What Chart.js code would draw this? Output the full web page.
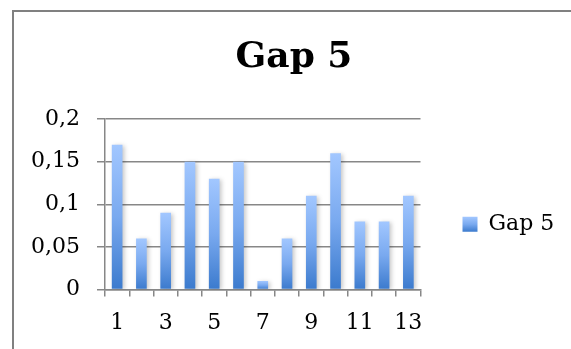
<!DOCTYPE html>
<html>
<head>
<meta charset="utf-8">
<script src="https://cdn.jsdelivr.net/npm/chart.js@4/dist/chart.umd.min.js"></script>
<style>
  html, body { margin: 0; padding: 0; background: #ffffff; overflow: hidden; }
  #frame {
    position: absolute; left: 12px; top: 10px; width: 640px; height: 420px;
    border: 2px solid #808080; box-sizing: border-box;
  }
  #wrap { position: absolute; left: 0; top: 0; width: 571px; height: 349px; }
</style>
</head>
<body>
<div id="frame"></div>
<div id="wrap"><canvas id="chart" width="571" height="349"></canvas></div>
<script>
// Category labels and the single series
const categories = ['1', '2', '3', '4', '5', '6', '7', '8', '9', '10', '11', '12', '13'];
const gap5 = [0.17, 0.06, 0.09, 0.15, 0.13, 0.15, 0.01, 0.06, 0.11, 0.16, 0.08, 0.08, 0.11];
const seriesName = 'Gap 5';
const yTicks = [0, 0.05, 0.1, 0.15, 0.2];

const FONT = "'DejaVu Serif', 'Liberation Serif', serif";
const GRID = '#878787';
const TOP_COLOR = '#a2c7ff';
const MID_COLOR = '#79a9ef';
const BOTTOM_COLOR = '#3b7acd';

Chart.defaults.font.family = FONT;
Chart.defaults.color = '#000000';

function verticalGradient(ctx, yTop, yBottom) {
  const g = ctx.createLinearGradient(0, yTop, 0, yBottom);
  g.addColorStop(0, TOP_COLOR);
  g.addColorStop(0.5, MID_COLOR);
  g.addColorStop(1, BOTTOM_COLOR);
  return g;
}

// Each bar gets its own light-to-dark gradient from its top down to zero
function barFill(context) {
  const chart = context.chart;
  const y = chart.scales.y;
  if (!y || context.raw === undefined) return MID_COLOR;
  const top = y.getPixelForValue(context.raw);
  const bottom = y.getPixelForValue(0);
  if (!isFinite(top) || !isFinite(bottom) || bottom - top < 0.5) return MID_COLOR;
  return verticalGradient(chart.ctx, top, bottom);
}

// Soft drop shadow behind the bars
const barShadow = {
  id: 'barShadow',
  beforeDatasetsDraw(chart) {
    const ctx = chart.ctx;
    ctx.save();
    ctx.shadowColor = 'rgba(0,0,0,0.22)';
    ctx.shadowBlur = 4;
    ctx.shadowOffsetX = 2;
    ctx.shadowOffsetY = 1;
  },
  afterDatasetsDraw(chart) {
    chart.ctx.restore();
  }
};

// Moves the legend block down a little, lets it run to the canvas edge,
// and widens the value axis box so its labels are not cut off
const boxPlacement = {
  id: 'boxPlacement',
  afterLayout(chart) {
    const lg = chart.legend;
    if (lg) {
      lg.top += 20;
      lg.bottom += 20;
      lg.right = chart.width;
      lg.width = lg.right - lg.left;
    }
    const y = chart.scales.y;
    if (y) {
      y.left = 0;
      y.width = y.right - y.left;
    }
  }
};

new Chart(document.getElementById('chart'), {
  type: 'bar',
  data: {
    labels: categories,
    datasets: [{
      label: seriesName,
      data: gap5,
      backgroundColor: barFill,
      borderWidth: 0,
      categoryPercentage: 1,
      barPercentage: 0.44
    }]
  },
  plugins: [barShadow, boxPlacement],
  options: {
    responsive: false,
    animation: false,
    devicePixelRatio: 1,
    layout: { padding: { left: 41, right: 24, top: 0, bottom: 0 } },
    plugins: {
      title: {
        display: true,
        text: seriesName,
        color: '#000000',
        font: { family: FONT, size: 36, weight: 'bold' },
        padding: { top: 36, bottom: 40 }
      },
      legend: {
        display: true,
        position: 'right',
        fullSize: false,
        labels: {
          color: '#000000',
          font: { family: FONT, size: 22 },
          boxWidth: 15,
          boxHeight: 15,
          padding: 42,
          generateLabels(chart) {
            const lg = chart.legend;
            let fill = MID_COLOR;
            if (lg && isFinite(lg.top) && isFinite(lg.bottom) && lg.bottom > lg.top) {
              const cy = (lg.top + lg.bottom) / 2;
              fill = verticalGradient(chart.ctx, cy - 7.5, cy + 7.5);
            }
            return chart.data.datasets.map((ds, i) => ({
              text: ds.label,
              fillStyle: fill,
              strokeStyle: 'rgba(0,0,0,0)',
              lineWidth: 0,
              fontColor: '#000000',
              hidden: !chart.isDatasetVisible(i),
              datasetIndex: i
            }));
          }
        }
      },
      tooltip: { enabled: false }
    },
    scales: {
      x: {
        afterFit(scale) { scale.height = 59.5; },
        grid: {
          display: true,
          offset: true,
          drawOnChartArea: false,
          drawTicks: true,
          tickLength: 7,
          color: GRID,
          lineWidth: 1.5
        },
        border: { display: true, color: GRID, width: 1.5 },
        ticks: {
          autoSkip: false,
          maxRotation: 0,
          minRotation: 0,
          padding: 14,
          color: '#000000',
          font: { family: FONT, size: 22 },
          callback: (value, index) => (index % 2 === 0 ? categories[index] : '')
        }
      },
      y: {
        min: 0,
        max: 0.2,
        afterFit(scale) { scale.width = 64; },
        afterBuildTicks(scale) { scale.ticks = yTicks.map(v => ({ value: v })); },
        grid: {
          color: GRID,
          lineWidth: 1.5,
          drawTicks: true,
          tickLength: 8
        },
        border: { display: true, color: GRID, width: 1.5 },
        ticks: {
          padding: 17,
          color: '#000000',
          font: { family: FONT, size: 22 },
          callback: (value) => String(Math.round(value * 100) / 100).replace('.', ',')
        }
      }
    }
  }
});
</script>
</body>
</html>
